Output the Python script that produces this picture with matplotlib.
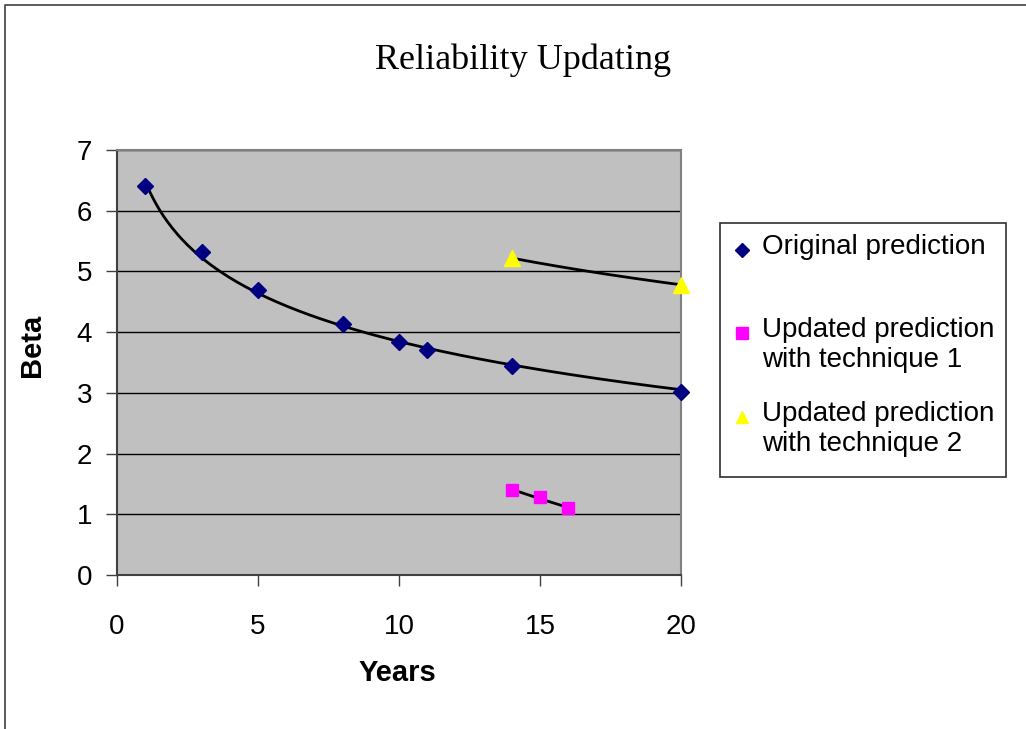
import numpy as np
import matplotlib
matplotlib.use("Agg")
import matplotlib.pyplot as plt
from matplotlib.lines import Line2D
from matplotlib.patches import Rectangle

# data
orig_years = [1, 3, 5, 8, 10, 11, 14, 20]
orig_beta = [6.40, 5.32, 4.70, 4.13, 3.84, 3.71, 3.44, 3.01]
tech1_years = [14, 15, 16]
tech1_beta = [1.40, 1.28, 1.10]
tech2_years = [14, 20]
tech2_beta = [5.22, 4.78]

series_labels = ["Original prediction",
                 "Updated prediction\nwith technique 1",
                 "Updated prediction\nwith technique 2"]
x_ticks = [0, 5, 10, 15, 20]
y_ticks = [0, 1, 2, 3, 4, 5, 6, 7]

plt.rcParams['font.family'] = ['Liberation Sans', 'DejaVu Sans']


# logarithmic trend line like Excel does
def logTrend(x, y, n=200):
    x = np.array(x, dtype=float)
    b, a = np.polyfit(np.log(x), np.array(y), 1)
    xs = np.linspace(x.min(), x.max(), n)
    return xs, a + b * np.log(xs)


fig = plt.figure(figsize=(10.26, 7.29), dpi=100)
ax = fig.add_axes([117/1026, 1-575/729, (681-117)/1026, (575-150)/729])
ax.set_facecolor('#C0C0C0')

for xs, ys in [(orig_years, orig_beta), (tech1_years, tech1_beta), (tech2_years, tech2_beta)]:
    tx, ty = logTrend(xs, ys)
    ax.plot(tx, ty, color='black', lw=2, zorder=3)

ax.plot(orig_years, orig_beta, 'D', color='#000080', ms=8, zorder=4, clip_on=False)
ax.plot(tech1_years, tech1_beta, 's', color='#FF00FF', ms=9, zorder=4, clip_on=False)
ax.plot(tech2_years, tech2_beta, '^', color='#FFFF00', ms=11, zorder=4, clip_on=False)

ax.set_xlim(0, 20)
ax.set_ylim(0, 7)
ax.set_xticks(x_ticks)
ax.set_yticks(y_ticks)
ax.yaxis.grid(True, color='black', lw=1)
ax.set_axisbelow(True)
ax.tick_params(labelsize=20, length=8, width=1, color='#404040')
ax.tick_params(axis='x', pad=20)
ax.tick_params(axis='y', pad=10)
for s in ['left', 'bottom']:
    ax.spines[s].set_color('#404040')
    ax.spines[s].set_linewidth(1.5)
for s in ['top', 'right']:
    ax.spines[s].set_color('#808080')
    ax.spines[s].set_linewidth(1.5)

ax.set_xlabel('Years', fontsize=21, fontweight='bold')
ax.set_ylabel('Beta', fontsize=21, fontweight='bold')
ax.xaxis.set_label_coords(0.497, -(673-575)/425)
ax.yaxis.set_label_coords(-(117-32)/564, (575-345)/425)
ax.xaxis.label.set_va('center')
ax.yaxis.label.set_va('center')

fig.text(523/1026, 1-60/729, 'Reliability Updating', fontsize=26,
         family='Liberation Serif', ha='center', va='center')

# legend drawn by hand to keep Excel's layout
fig.add_artist(Rectangle((720/1026, 1-477/729), 286/1026, 254/729,
                         transform=fig.transFigure, fill=False,
                         edgecolor='#303030', lw=1.2))
leg_markers = [('D', '#000080', 7), ('s', '#FF00FF', 8), ('^', '#FFFF00', 9)]
leg_y = [250, 333, 417]
for (m, c, sz), yy, lab in zip(leg_markers, leg_y, series_labels):
    fig.add_artist(Line2D([742/1026], [1-yy/729], marker=m, color=c, ms=sz,
                          ls='none', transform=fig.transFigure))
    fig.text(762/1026, 1-(yy-16)/729, lab, fontsize=20, ha='left', va='top',
             linespacing=1.2)

# outer chart border
fig.add_artist(Line2D([5/1026, 5/1026, 1], [0, 1-5/729, 1-5/729],
                      color='#404040', lw=1.2, transform=fig.transFigure))

fig.savefig('out.png', dpi=100)
